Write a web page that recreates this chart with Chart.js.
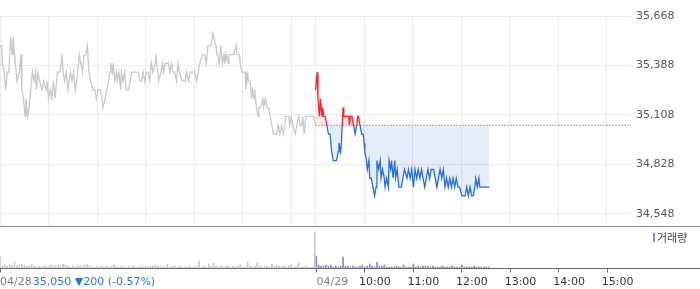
<!DOCTYPE html>
<html>
<head>
<meta charset="utf-8">
<script src="https://cdn.jsdelivr.net/npm/chart.js@4"></script>
<style>
html, body { margin: 0; padding: 0; background: #fff; }
#wrap { position: relative; width: 700px; height: 289px; }
#priceBox { position: absolute; left: 0; top: 0; width: 700px; height: 226px; }
#volBox { position: absolute; left: 0; top: 226px; width: 700px; height: 63px; }
</style>
</head>
<body>
<div id="wrap">
  <div id="priceBox"><canvas id="priceChart"></canvas></div>
  <div id="volBox"><canvas id="volumeChart"></canvas></div>
</div>
<script>
// minutes after 09:00 on 04/28, previous session
const prevTimes = [0,2,3,5,7,9,11,13,15,16,19,21,24,26,27,29,31,32,34,36,38,40,42,44,45,47,49,52,54,57,58,60,62,64,66,68,71,74,77,78,80,82,84,87,89,91,93,95,98,100,102,104,106,108,110,112,115,117,119,121,124,126,127,130,132,134,136,137,139,140,142,144,145,147,149,150,152,154,156,159,161,163,167,171,173,175,177,179,181,183,185,187,189,192,193,195,196,199,201,202,204,206,208,210,212,214,216,218,220,222,225,229,230,233,235,238,241,243,245,247,250,253,255,257,261,263,264,267,268,269,271,273,274,275,277,278,280,282,283,286,289,292,293,296,297,299,301,303,304,306,307,309,311,312,314,315,317,319,320,322,325,326,328,330,332,334,336,338,340,342,344,346,348,350,352,353,355,357,358,360,362,365,367,369,371,373,374,376,378,381,385,388,390];
const prevPrices = [35500,35500,35400,35350,35250,35350,35350,35550,35450,35550,35400,35300,35350,35450,35250,35200,35100,35200,35100,35150,35250,35350,35300,35350,35250,35350,35300,35250,35300,35250,35300,35200,35250,35200,35300,35200,35350,35350,35450,35350,35300,35350,35250,35350,35300,35350,35250,35300,35450,35400,35350,35450,35450,35500,35350,35300,35250,35250,35200,35250,35250,35200,35150,35200,35250,35300,35350,35400,35350,35400,35300,35350,35300,35350,35250,35350,35300,35350,35250,35250,35300,35350,35350,35350,35300,35300,35350,35300,35350,35350,35300,35400,35350,35400,35450,35350,35300,35350,35400,35350,35400,35400,35400,35350,35400,35350,35350,35300,35400,35350,35300,35300,35350,35300,35350,35350,35350,35300,35350,35400,35450,35450,35400,35500,35500,35570,35550,35500,35450,35450,35400,35500,35450,35400,35450,35400,35450,35400,35450,35450,35450,35500,35450,35450,35400,35350,35350,35350,35250,35350,35300,35300,35200,35250,35200,35250,35150,35100,35150,35150,35200,35150,35200,35150,35150,35100,35050,35000,35000,35000,35050,35000,35050,35000,35050,35100,35100,35100,35050,35100,35050,35000,35050,35100,35050,35050,35100,35000,35100,35100,35100,35100,35050];

// minutes after 09:00 on 04/29
const todayTimes = [0,2,3,5,6,8,9,10,12,14,16,18,20,22,24,26,28,29,31,32,33,34,35,38,39,41,42,43,45,47,49,51,52,53,55,57,59,60,61,63,64,66,67,69,71,73,75,76,78,80,81,83,85,86,88,90,91,93,94,96,98,99,101,103,106,108,110,113,115,117,119,121,123,125,127,129,131,133,135,137,139,141,143,146,148,150,152,154,156,158,160,162,164,166,168,170,172,174,176,178,181,185,187,189,191,193,195,197,198,200,202,203,207,211,215];
const todayPrices = [35250,35350,35200,35100,35200,35100,35150,35100,35100,35050,35000,35000,34900,34850,34850,34850,34900,34950,34900,34950,35050,35150,35100,35100,35100,35100,35050,35100,35100,35050,35000,35050,35100,35100,35050,35000,35000,34950,34900,34850,34800,34850,34750,34750,34700,34650,34700,34850,34800,34850,34750,34800,34750,34700,34750,34700,34850,34800,34850,34750,34850,34750,34800,34700,34700,34750,34800,34750,34800,34750,34800,34700,34800,34750,34800,34750,34800,34750,34700,34750,34800,34750,34800,34800,34750,34700,34750,34800,34750,34800,34700,34750,34700,34750,34700,34750,34700,34750,34700,34700,34650,34650,34700,34650,34700,34650,34650,34700,34750,34700,34750,34700,34700,34700,34700];

// volume, one bar every 3 minutes
const VOL_STEP = 3;
const prevVolume = [12,2,3,2,3,3,6,2,3,4, 3,2,2,4,2,1,2,1,2,2, 1,3,2,2,3,2,4,3,2,1, 2,1,2,2,2,3,4,2,1,1, 2,1,2,1,2,1,2,3,2,1, 2,1,1,2,1,2,1,1,2,1, 2,1,2,2,3,2,1,2,1,4, 1,2,2,1,2,1,1,1,2,1, 1,2,7,1,2,1,4,2,5,2, 1,2,1,2,2,1,2,1,2,3, 1,1,6,2,1,2,5,2,1,2, 2,1,4,2,3,2,2,2,1,2, 3,1,2,5,1,1,2,1,1,1];
const closeAuctionVolume = 36;
const todayVolume = [12,3,2,2,3,2,3,1,2,1, 2,11,2,2,1,2,1,1,2,3, 1,2,4,2,1,6,2,2,3,1, 1,1,1,2,1,1,3,1,1,1, 4,1,2,1,2,2,2,1,2,1, 1,1,2,1,1,1,2,1,1,1, 3,1,1,1,1,2,1,1,1,1, 1,1];

const BASE_PRICE = 35050;
const priceTicks = [34548, 34828, 35108, 35388, 35668];
const gridTicks = [0, 60, 120, 180, 240, 300, 360, 390, 450, 510, 570, 630, 690, 750];
const axisTicks = [0, 390, 450, 510, 570, 630, 690, 750];
const axisLabels = ['04/28', '04/29', '10:00', '11:00', '12:00', '13:00', '14:00', '15:00'];
const prevCloseText = '35,050 ▼200 (-0.57%)';
const volumeLegend = '거래량';

const SESSION = 390;
const RED = 'rgb(245,35,45)';
const BLUE = 'rgb(38,110,218)';
const FONT = '"DejaVu Sans", sans-serif';

function splitColor(c) {
    const chart = c.chart;
    const area = chart.chartArea;
    if (!area) return BLUE;
    const yb = chart.scales.y.getPixelForValue(BASE_PRICE);
    const g = chart.ctx.createLinearGradient(0, area.top, 0, area.bottom);
    const s = Math.min(Math.max((yb - area.top) / (area.bottom - area.top), 0), 1);
    g.addColorStop(0, RED);
    g.addColorStop(s, RED);
    g.addColorStop(s, BLUE);
    g.addColorStop(1, BLUE);
    return g;
}

function noPadding(s) {
    s.paddingTop = 0;
    s.paddingBottom = 0;
    s.paddingLeft = 0;
    s.paddingRight = 0;
}

new Chart(document.getElementById('priceChart'), {
    type: 'line',
    data: {
        datasets: [
            {
                data: [{x: SESSION, y: BASE_PRICE}, {x: 780, y: BASE_PRICE}],
                borderColor: '#444',
                borderWidth: 1,
                borderDash: [1, 2],
                pointRadius: 0,
                fill: false
            },
            {
                data: todayTimes.map((t, i) => ({x: SESSION + t, y: todayPrices[i]})),
                borderColor: splitColor,
                borderWidth: 1.3,
                pointRadius: 0,
                fill: {target: {value: BASE_PRICE}, above: 'rgba(255,60,60,0.10)', below: 'rgba(40,110,220,0.12)'}
            },
            {
                data: prevTimes.map((t, i) => ({x: t, y: prevPrices[i]})),
                borderColor: '#c8c8cc',
                borderWidth: 1.3,
                pointRadius: 0,
                fill: false
            }
        ]
    },
    options: {
        responsive: true,
        maintainAspectRatio: false,
        animation: false,
        layout: {padding: {top: 16, left: 0, right: 0, bottom: 0}},
        plugins: {
            legend: {display: false},
            tooltip: {enabled: false},
            filler: {drawTime: 'beforeDatasetsDraw'}
        },
        scales: {
            x: {
                type: 'linear',
                min: 0,
                max: 780,
                afterBuildTicks: s => { s.ticks = gridTicks.map(v => ({value: v})); },
                afterFit: s => { s.height = 0; noPadding(s); },
                grid: {color: '#ebebeb', drawTicks: false},
                border: {display: false},
                ticks: {display: false}
            },
            y: {
                position: 'right',
                min: 34480,
                max: 35668,
                afterBuildTicks: s => { s.ticks = priceTicks.map(v => ({value: v})); },
                afterFit: s => { s.width = 69; noPadding(s); },
                grid: {color: '#ebebeb', drawTicks: false},
                border: {display: false},
                ticks: {
                    color: '#555',
                    padding: 5,
                    font: {family: FONT, size: 11},
                    callback: v => v.toLocaleString('en-US')
                }
            }
        }
    }
});

const bottomAxis = {
    id: 'bottomAxis',
    afterDraw(chart) {
        const {ctx, chartArea} = chart;
        const x = chart.scales.x;
        const yb = Math.round(chartArea.bottom) + 0.5;
        ctx.save();
        // panel separator
        ctx.strokeStyle = '#8c8c8c';
        ctx.lineWidth = 1;
        ctx.beginPath();
        ctx.moveTo(0, 0.5);
        ctx.lineTo(chart.width, 0.5);
        ctx.stroke();
        // time axis
        ctx.strokeStyle = '#6a6a6a';
        ctx.beginPath();
        ctx.moveTo(0, yb);
        ctx.lineTo(chart.width, yb);
        axisTicks.forEach(v => {
            const px = Math.round(x.getPixelForValue(v)) + 0.5;
            ctx.moveTo(px, yb);
            ctx.lineTo(px, yb + 4);
        });
        ctx.stroke();

        ctx.font = '11px ' + FONT;
        ctx.textBaseline = 'middle';
        ctx.textAlign = 'left';
        const ly = yb + 14;
        axisTicks.forEach((v, i) => {
            const px = x.getPixelForValue(v);
            const isDay = axisLabels[i].includes('/');
            ctx.fillStyle = isDay ? '#808080' : '#333';
            const lx = i === 0 ? 0 : (isDay ? px + 1 : px - 5);
            ctx.fillText(axisLabels[i], lx, ly);
            if (i === 0) {
                ctx.fillStyle = '#2b74e2';
                ctx.fillText(prevCloseText, ctx.measureText(axisLabels[0]).width + 1, ly);
            }
        });

        // legend
        ctx.fillStyle = '#9a7fcc';
        ctx.fillRect(653, 7, 2, 9);
        ctx.fillStyle = '#444';
        ctx.font = '11px "Noto Sans CJK KR", sans-serif';
        ctx.fillText(volumeLegend, 657, 12);
        ctx.restore();
    }
};

new Chart(document.getElementById('volumeChart'), {
    type: 'bar',
    data: {
        datasets: [
            {
                data: prevVolume.map((v, i) => ({x: i * VOL_STEP, y: v})).concat([{x: SESSION - 1, y: closeAuctionVolume}]),
                backgroundColor: '#c6c6c6',
                barThickness: 1,
                grouped: false
            },
            {
                data: todayVolume.map((v, i) => ({x: SESSION + 1 + i * VOL_STEP, y: v})),
                backgroundColor: '#9a7fcc',
                barThickness: 1,
                grouped: false
            }
        ]
    },
    options: {
        responsive: true,
        maintainAspectRatio: false,
        animation: false,
        layout: {padding: {top: 0, left: 0, right: 69, bottom: 21}},
        plugins: {legend: {display: false}, tooltip: {enabled: false}},
        scales: {
            x: {type: 'linear', min: 0, max: 780, offset: false, display: false},
            y: {min: 0, max: 42, display: false}
        }
    },
    plugins: [bottomAxis]
});
</script>
</body>
</html>
